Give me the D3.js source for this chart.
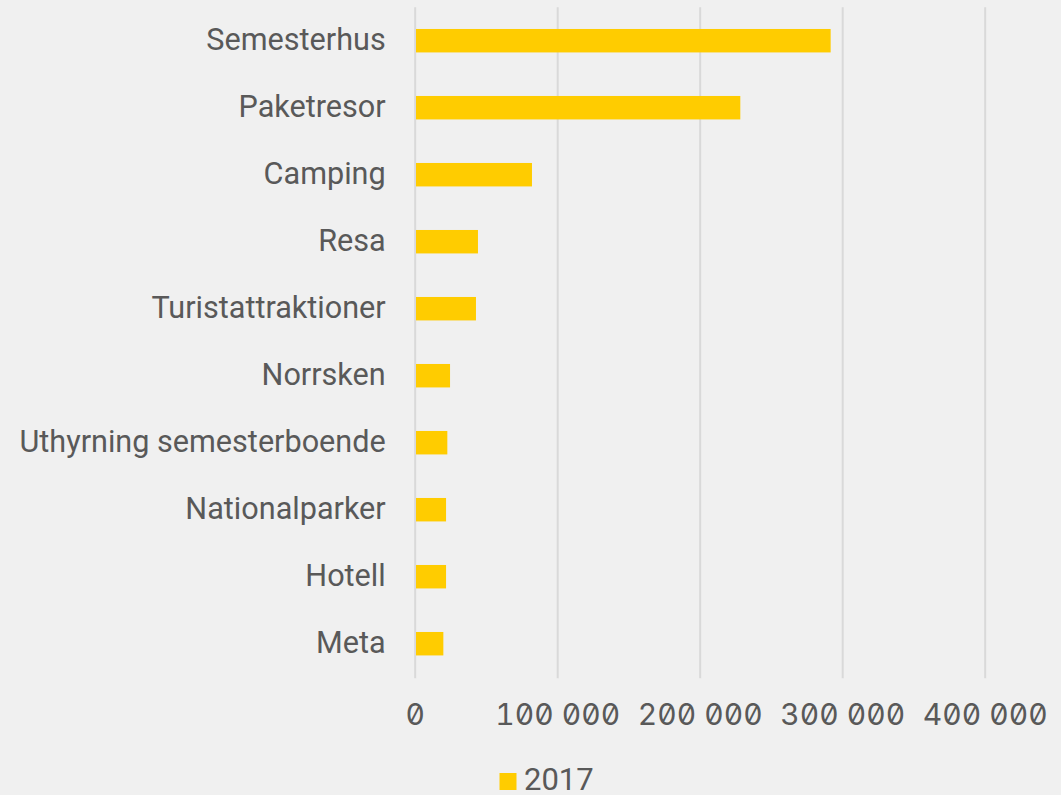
<!DOCTYPE html>
<html><head><meta charset="utf-8">
<script src="https://cdn.jsdelivr.net/npm/d3@7"></script>
<style>
html,body{margin:0;padding:0;background:#f0f0f0;}
svg{display:block;}
</style></head>
<body>
<svg id="chart" width="1061" height="795"></svg>
<script>
const categories = ["Semesterhus","Paketresor","Camping","Resa","Turistattraktioner","Norrsken","Uthyrning semesterboende","Nationalparker","Hotell","Meta"];
const values2017 = [291900, 228500, 82300, 44400, 43000, 24800, 22900, 22000, 22000, 20100];
const xTicks = [0, 100000, 200000, 300000, 400000];
const seriesName = "2017";

(function () {
const svg = d3.select("#chart");
const W = 1061, H = 795;
svg.append("rect").attr("width", W).attr("height", H).attr("fill", "#f0f0f0");

const pLeft = 414.7, pRight = 984.7, pTop = 7.2, pBottom = 677.2;
const x = d3.scaleLinear().domain([0, 400000]).range([pLeft, pRight]);
const y = d3.scaleBand().domain(categories).range([pTop, pBottom]).paddingInner(0.65).paddingOuter(0.325);

const fmt = v => d3.format(",")(v).replace(/,/g, " ");

const xAxis = d3.axisBottom(x).tickValues(xTicks).tickSize(-(pBottom - pTop) - 1).tickPadding(26).tickFormat(fmt);
const gx = svg.append("g").attr("transform", `translate(0,${pBottom + 1})`).call(xAxis);
gx.select(".domain").remove();
gx.selectAll(".tick line").attr("stroke", "#d9d9d9").attr("stroke-width", 2);
gx.selectAll(".tick text")
  .attr("fill", "#595959")
  .style("font-family", "Inter, Roboto, sans-serif")
  .style("font-feature-settings", "'zero' 1, 'tnum' 1")
  .style("font-size", "30px")
  .attr("dy", "0.71em");

svg.append("g").selectAll("rect").data(categories).join("rect")
  .attr("x", x(0) + 1.3)
  .attr("y", d => y(d))
  .attr("width", (d, i) => x(values2017[i]) - x(0) - 1.3)
  .attr("height", y.bandwidth())
  .attr("fill", "#ffcc00");

const yAxis = d3.axisLeft(y).tickSize(0).tickPadding(29);
const gy = svg.append("g").attr("transform", `translate(${pLeft},0)`).call(yAxis);
gy.select(".domain").remove();
gy.selectAll(".tick text")
  .attr("fill", "#595959")
  .style("font-family", "Roboto, sans-serif")
  .style("font-size", "30.6px");

const lg = svg.append("g");
lg.append("rect").attr("x", 499.5).attr("y", 773).attr("width", 17).attr("height", 17).attr("fill", "#ffcc00");
lg.append("text").attr("x", 524).attr("y", 790)
  .attr("fill", "#595959")
  .style("font-family", "Roboto, sans-serif")
  .style("font-size", "31px")
  .text(seriesName);
})();
</script>
</body></html>
